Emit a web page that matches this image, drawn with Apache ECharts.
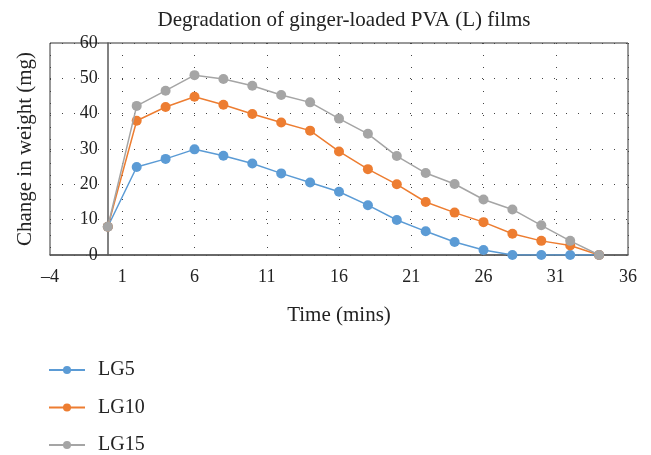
<!DOCTYPE html>
<html>
<head>
<meta charset="utf-8">
<script src="https://cdn.jsdelivr.net/npm/echarts@6/dist/echarts.min.js"></script>
<style>html,body{margin:0;padding:0;background:#fff;}#c{width:651px;height:455px;}</style>
</head>
<body>
<div id="c"></div>
<script>
var times = [0, 2, 4, 6, 8, 10, 12, 14, 16, 18, 20, 22, 24, 26, 28, 30, 32, 34];
var lg5  = [8, 24.9, 27.2, 29.9, 28.1, 25.9, 23.1, 20.5, 17.9, 14.1, 9.9, 6.7, 3.7, 1.4, 0, 0, 0, 0];
var lg10 = [8, 38.0, 41.9, 44.8, 42.5, 39.9, 37.5, 35.2, 29.3, 24.3, 20.0, 15.0, 12.0, 9.3, 6.0, 4.0, 2.7, 0];
var lg15 = [8, 42.2, 46.5, 50.9, 49.8, 47.9, 45.3, 43.2, 38.6, 34.3, 28.0, 23.2, 20.1, 15.7, 12.9, 8.4, 4.0, 0];
var xTicks = [-4, 1, 6, 11, 16, 21, 26, 31, 36];
var yTicks = [0, 10, 20, 30, 40, 50, 60];
var seriesNames = ['LG5', 'LG10', 'LG15'];
var colors = ['#5B9BD5', '#ED7D31', '#A5A5A5'];

var FONT = '"Liberation Serif", "DejaVu Serif", serif';
function pairs(vals) { return times.map(function (t, i) { return [t, vals[i]]; }); }
var dataSets = [lg5, lg10, lg15];

var W = 651, GL = 50, GR = 23;
var xMin = xTicks[0], xMax = xTicks[xTicks.length - 1];
// y axis crosses at x = 0: shift it right from the grid's left edge
var yOffset = -((0 - xMin) / (xMax - xMin)) * (W - GL - GR);

var chart = echarts.init(document.getElementById('c'), null, {renderer: 'canvas'});
chart.setOption({
  animation: false,
  title: {
    text: 'Degradation of ginger-loaded PVA (L) films',
    left: 339, top: 5, textAlign: 'center',
    textStyle: {fontFamily: FONT, fontSize: 21, fontWeight: 'normal', color: '#222'}
  },
  legend: {
    orient: 'vertical', left: 48, top: 360, padding: 0,
    itemWidth: 36, itemHeight: 10, itemGap: 17.5,
    data: seriesNames,
    textStyle: {fontFamily: FONT, fontSize: 20, color: '#222', padding: [0, 0, 0, 8]}
  },
  grid: {
    left: GL, right: GR, top: 43, bottom: 200,
    show: true, borderColor: '#333', borderWidth: 1,
    containLabel: false, outerBoundsMode: 'none'
  },
  xAxis: {
    type: 'value', min: xMin, max: xMax,
    name: 'Time (mins)', nameLocation: 'middle', nameGap: 50,
    nameTextStyle: {fontFamily: FONT, fontSize: 21, color: '#222'},
    axisLine: {show: true, lineStyle: {color: '#595959', width: 1.5}},
    axisTick: {show: false, customValues: xTicks},
    axisLabel: {
      customValues: xTicks, margin: 13,
      fontFamily: FONT, fontSize: 18, color: '#222',
      formatter: function (v) { return v < 0 ? '\u2013' + Math.abs(v) : String(v); }
    },
    splitLine: {show: true, lineStyle: {color: '#444', width: 1, type: [1, 11]}}
  },
  yAxis: {
    type: 'value', min: yTicks[0], max: yTicks[yTicks.length - 1], interval: 10,
    offset: yOffset,
    name: 'Change in weight (mg)', nameLocation: 'middle', nameGap: 72,
    nameTextStyle: {fontFamily: FONT, fontSize: 21, color: '#222'},
    axisLine: {show: true, onZero: false, lineStyle: {color: '#595959', width: 1.5}},
    axisTick: {show: false},
    axisLabel: {margin: 10, fontFamily: FONT, fontSize: 18, color: '#222'},
    splitLine: {show: true, lineStyle: {color: '#444', width: 1, type: [1, 11]}}
  },
  series: seriesNames.map(function (n, i) {
    return {
      name: n, type: 'line', data: pairs(dataSets[i]),
      symbol: 'circle', symbolSize: 10,
      itemStyle: {color: colors[i]},
      lineStyle: {color: colors[i], width: 1.5},
      emphasis: {disabled: true}, z: 2 + i
    };
  })
});
</script>
</body>
</html>
